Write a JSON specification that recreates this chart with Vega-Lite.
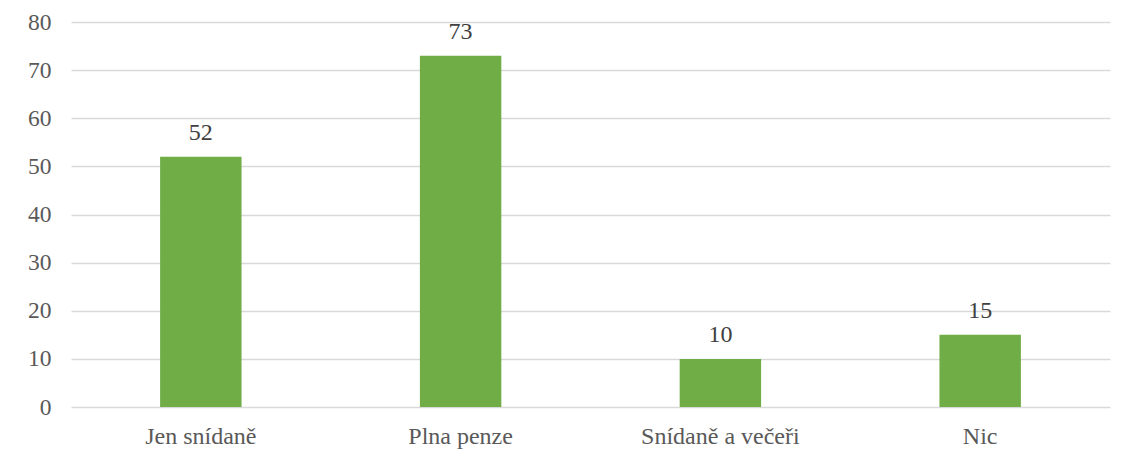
{
  "$schema": "https://vega.github.io/schema/vega-lite/v6.json",
  "autosize": {"type": "none"},
  "width": 1039,
  "height": 385,
  "padding": {"left": 71, "top": 22, "right": 16, "bottom": 51},
  "background": "white",
  "config": {
    "view": {"stroke": null},
    "font": "Liberation Serif"
  },
  "data": {
    "values": [
      {"kategorie": "Jen snídaně", "pocet": 52},
      {"kategorie": "Plna penze", "pocet": 73},
      {"kategorie": "Snídaně a večeři", "pocet": 10},
      {"kategorie": "Nic", "pocet": 15}
    ]
  },
  "encoding": {
    "x": {
      "field": "kategorie",
      "type": "nominal",
      "sort": null,
      "scale": {"paddingInner": 0.6865, "paddingOuter": 0.343},
      "axis": {
        "title": null,
        "labelAngle": 0,
        "labelFont": "Liberation Serif",
        "labelFontSize": 24,
        "labelColor": "#595959",
        "labelBaseline": "alphabetic",
        "labelPadding": 36,
        "ticks": false,
        "domain": false
      }
    },
    "y": {
      "field": "pocet",
      "type": "quantitative",
      "scale": {"domain": [0, 80], "nice": false},
      "axis": {
        "title": null,
        "values": [0, 10, 20, 30, 40, 50, 60, 70, 80],
        "labelFont": "Liberation Serif",
        "labelFontSize": 23.5,
        "labelColor": "#595959",
        "labelPadding": 20,
        "ticks": false,
        "domain": false,
        "grid": true,
        "gridColor": "#d9d9d9",
        "gridWidth": 1.3
      }
    }
  },
  "layer": [
    {"mark": {"type": "bar", "color": "#70ad47"}},
    {
      "mark": {
        "type": "text",
        "baseline": "alphabetic",
        "dy": -17,
        "fontSize": 24,
        "font": "Liberation Serif",
        "color": "#404040"
      },
      "encoding": {"text": {"field": "pocet", "type": "quantitative"}}
    }
  ]
}
